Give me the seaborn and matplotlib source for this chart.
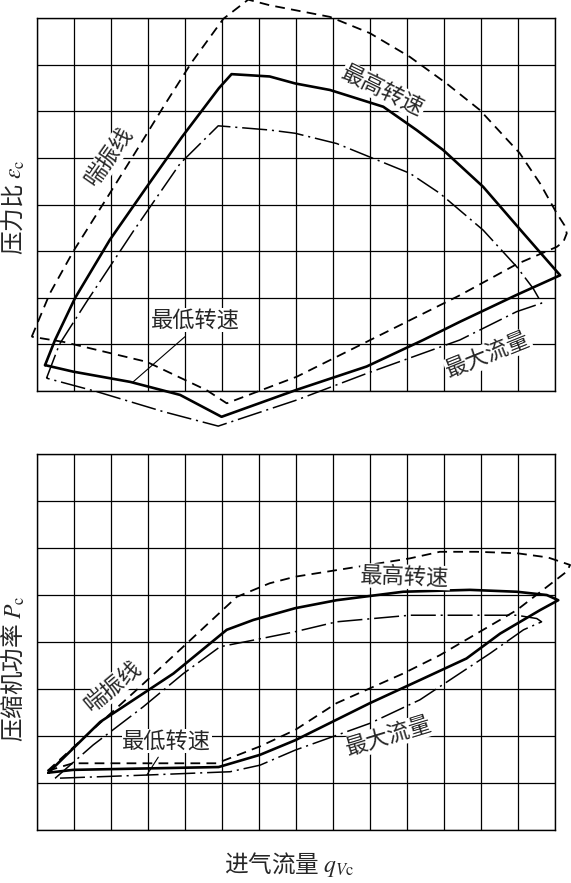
import matplotlib
matplotlib.use("Agg")
import matplotlib.pyplot as plt
import seaborn as sns
import pandas as pd

# ---------------- data (grid units: 14 columns x 8 rows) ----------------
# Top panel: pressure ratio map
surge_top_x = [-0.15, 0.34, 0.97, 1.96, 2.69, 3.41, 4.17, 5.03, 5.70, 6.28, 7.91, 8.99, 10.07,
               11.06, 11.96, 13.04, 13.59, 14.04, 14.25, 14.31, 14.22, 14.04, 12.96, 11.42,
               8.90, 7.01, 5.12, 4.58, 2.96, 0.70, -0.15]
surge_top_y = [1.16, 2.09, 2.99, 4.24, 5.17, 6.10, 7.05, 7.99, 8.40, 8.28, 8.03, 7.68, 7.17,
               6.60, 6.03, 5.10, 4.45, 3.81, 3.55, 3.38, 3.20, 3.09, 2.72, 2.05,
               1.05, 0.30, -0.27, 0.01, 0.62, 1.05, 1.16]

max_top_x = [0.21, 0.48, 1.02, 1.96, 2.96, 3.91, 4.91, 5.25, 6.28, 6.97, 7.91, 9.35, 10.25,
             10.97, 12.05, 13.14, 14.13, 12.96, 11.42, 10.43, 8.90, 7.01, 4.98, 3.86, 2.51,
             0.97, 0.21]
max_top_y = [0.55, 1.09, 1.99, 3.24, 4.38, 5.45, 6.50, 6.80, 6.75, 6.60, 6.46, 6.10, 5.60,
             5.17, 4.38, 3.38, 2.48, 2.06, 1.48, 1.09, 0.52, 0.02, -0.56, -0.09, 0.19,
             0.41, 0.55]

min_top_x = [0.25, 0.60, 1.34, 2.59, 3.86, 4.89, 6.28, 6.97, 8.09, 10.07, 10.88, 12.05, 12.96,
             13.40, 13.63, 12.96, 11.42, 8.90, 7.01, 4.89, 3.41, 1.61, 0.25]
min_top_y = [0.27, 1.00, 1.92, 3.42, 4.88, 5.69, 5.60, 5.53, 5.31, 4.67, 4.24, 3.45, 2.66,
             2.20, 1.88, 1.70, 1.09, 0.37, -0.20, -0.76, -0.45, -0.02, 0.27]

# Bottom panel: compressor power map
surge_bot_x = [0.28, 1.24, 2.78, 4.04, 5.39, 6.28, 6.97, 8.09, 10.07, 10.88, 11.88, 12.96,
               13.80, 14.40, 14.31, 12.96, 10.88, 9.89, 8.09, 6.97, 6.02, 4.85, 0.96, 0.28]
surge_bot_y = [1.26, 1.95, 3.05, 3.97, 4.96, 5.25, 5.39, 5.53, 5.78, 5.92, 5.92, 5.89,
               5.80, 5.64, 5.50, 4.68, 3.72, 3.33, 2.70, 2.13, 1.78, 1.42, 1.42, 1.26]

max_bot_x = [0.30, 1.70, 3.68, 5.12, 5.84, 6.97, 8.09, 9.89, 11.69, 12.96, 13.77, 14.08,
             13.59, 12.51, 11.60, 10.34, 8.99, 6.97, 6.02, 4.90, 0.97, 0.30]
max_bot_y = [1.22, 2.30, 3.33, 4.26, 4.47, 4.72, 4.89, 5.07, 5.11, 5.07, 5.00, 4.89,
             4.68, 4.18, 3.65, 3.19, 2.70, 1.91, 1.60, 1.34, 1.28, 1.22]

min_bot_x = [0.48, 1.51, 2.86, 3.95, 4.94, 5.84, 6.97, 8.09, 10.07, 12.00, 12.96, 13.50,
             13.63, 13.14, 12.24, 10.34, 8.99, 6.97, 6.02, 5.21, 2.96, 0.48]
min_bot_y = [1.10, 1.81, 2.62, 3.33, 3.90, 4.04, 4.22, 4.43, 4.57, 4.57, 4.57, 4.50,
             4.43, 4.26, 3.76, 2.77, 2.27, 1.70, 1.38, 1.24, 1.17, 1.10]

n_cols, n_rows = 14, 8

# labels: (text, x, y, rotation)
top_labels = [("喘振线", 1.96, 5.03, 55), ("最高转速", 9.35, 6.45, -26),
              ("最低转速", 4.28, 1.52, 0), ("最大流量", 12.19, 0.77, 22)]
bot_labels = [("喘振线", 2.05, 3.05, 40), ("最高转速", 9.94, 5.39, -2),
              ("最低转速", 3.50, 1.89, 0), ("最大流量", 9.49, 1.99, 17)]
top_leader_x, top_leader_y = [2.59, 3.99], [0.19, 1.16]
bot_leader_x, bot_leader_y = [2.96, 3.27], [1.17, 1.55]

ylabel_top = r"压力比 $\varepsilon_{\mathrm{c}}$"
ylabel_bot = r"压缩机功率 $P_{\mathrm{c}}$"
xlabel = r"进气流量 $q_{V\mathrm{c}}$"

# ---------------- style ----------------
sns.set_style("white")
plt.rcParams['font.family'] = ['Noto Sans CJK SC', 'DejaVu Sans']
plt.rcParams['mathtext.fontset'] = 'stix'
plt.rcParams['lines.scale_dashes'] = False

fig = plt.figure(figsize=(5.71, 8.83), dpi=100)
ax_top = fig.add_axes([0.0653, 0.5575, 0.9072, 0.4218])
ax_bot = fig.add_axes([0.0653, 0.0600, 0.9072, 0.4258])

DASH = (0, (7, 4.5))
DASHDOT = (0, (18, 3.5, 1.5, 3.5))


def draw_curve(ax, xs, ys, style, lw):
    df = pd.DataFrame({"x": xs, "y": ys})
    sns.lineplot(data=df, x="x", y="y", sort=False, estimator=None, ax=ax,
                 color="black", linewidth=lw, linestyle=style, clip_on=False,
                 zorder=3)


def setup(ax):
    ax.set_xlim(0, n_cols)
    ax.set_ylim(0, n_rows)
    ax.set_xticks(range(n_cols + 1))
    ax.set_yticks(range(n_rows + 1))
    ax.set_xticklabels([])
    ax.set_yticklabels([])
    ax.tick_params(length=0)
    ax.grid(True, color="black", linewidth=0.9)
    ax.set_axisbelow(True)
    for s in ax.spines.values():
        s.set_color("black")
        s.set_linewidth(1.0)
    ax.set_xlabel("")
    ax.set_ylabel("")


for ax, sx, sy, mx, my, nx, ny, labels, lx, ly in [
        (ax_top, surge_top_x, surge_top_y, max_top_x, max_top_y, min_top_x, min_top_y,
         top_labels, top_leader_x, top_leader_y),
        (ax_bot, surge_bot_x, surge_bot_y, max_bot_x, max_bot_y, min_bot_x, min_bot_y,
         bot_labels, bot_leader_x, bot_leader_y)]:
    draw_curve(ax, sx, sy, DASH, 1.3)
    draw_curve(ax, mx, my, "-", 1.9)
    draw_curve(ax, nx, ny, DASHDOT, 1.1)
    sns.lineplot(x=lx, y=ly, sort=False, estimator=None, ax=ax, color="black",
                 linewidth=0.8, zorder=3)
    for t, x, y, r in labels:
        ax.text(x, y, t, rotation=r, ha="center", va="center", fontsize=16,
                rotation_mode="anchor", zorder=4,
                bbox=dict(facecolor="white", edgecolor="none", pad=0.5))
    setup(ax)

fig.text(0.0228, 0.7656, ylabel_top, rotation=90, ha="center", va="center", fontsize=17)
fig.text(0.0228, 0.2424, ylabel_bot, rotation=90, ha="center", va="center", fontsize=17)
fig.text(0.506, 0.0204, xlabel, ha="center", va="center", fontsize=17)

fig.savefig("out.png", dpi=100)
